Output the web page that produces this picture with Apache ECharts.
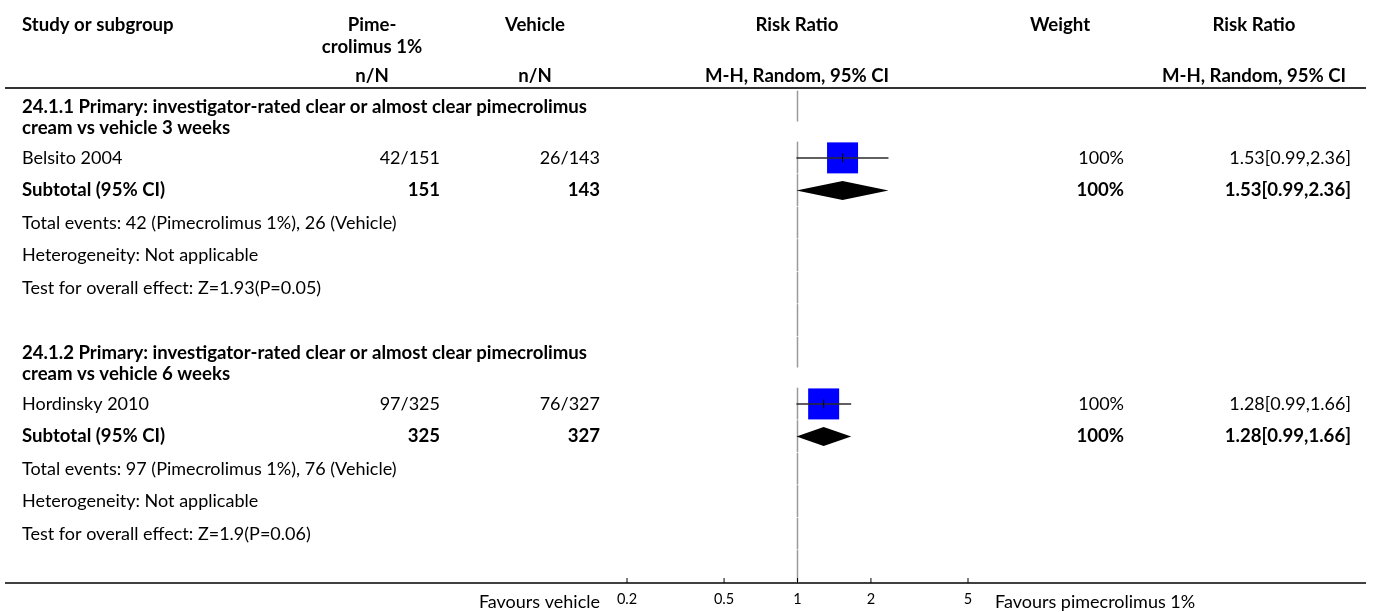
<!DOCTYPE html>
<html>
<head>
<meta charset="utf-8">
<script src="https://cdn.jsdelivr.net/npm/echarts@6/dist/echarts.min.js"></script>
<style>
  html, body { margin: 0; padding: 0; background: #ffffff; }
  #chart { width: 1373px; height: 612px; }
</style>
</head>
<body>
<div id="chart"></div>
<script>
// ---- Forest plot data: pimecrolimus 1% cream vs vehicle ----
const subgroupTitles = [
  '24.1.1 Primary: investigator-rated clear or almost clear pimecrolimus\ncream vs vehicle 3 weeks',
  '24.1.2 Primary: investigator-rated clear or almost clear pimecrolimus\ncream vs vehicle 6 weeks'
];
const studyNames = ['Belsito 2004', 'Hordinsky 2010'];
const studySubgroup = [0, 1];
const pimeEvents = [42, 97];
const pimeTotals = [151, 325];
const vehicleEvents = [26, 76];
const vehicleTotals = [143, 327];
const studyRR = [1.53, 1.28];
const studyLow = [0.99, 0.99];
const studyHigh = [2.36, 1.66];
const studyWeight = [100, 100];

const subtotalRR = [1.53, 1.28];
const subtotalLow = [0.99, 0.99];
const subtotalHigh = [2.36, 1.66];
const subtotalWeight = [100, 100];
const heterogeneityText = ['Not applicable', 'Not applicable'];
const zValues = ['1.93', '1.9'];
const pValues = ['0.05', '0.06'];

const tickValues = [0.2, 0.5, 1, 2, 5];
const tickLabels = ['0.2', '0.5', '1', '2', '5'];
const axisMin = 0.2;
const axisMax = 5;

// ---- layout ----
const FONT = 'Lato';
const regular = `normal 18px "${FONT}"`;
const bold = `bold 18.6px "${FONT}"`;
const COL = {
  name: 22, pimeRight: 440, pimeHead: 372, vehRight: 600, vehHead: 535,
  plotHead: 797, weightRight: 1124, weightHead: 1060, ciRight: 1351, ciHead: 1254
};
const GRID = { left: 627, width: 341, top: 88, bottom: 583 };

const fmtCI = (rr, lo, hi) => `${rr.toFixed(2)}[${lo.toFixed(2)},${hi.toFixed(2)}]`;

// ---- rows of the table, positioned in row units down the y axis ----
const rows = [];
let pos = 0.58;
subgroupTitles.forEach((title, g) => {
  rows.push({ kind: 'title', pos, text: title }); pos += 1.57;
  let nP = 0, nV = 0, eP = 0, eV = 0;
  studyNames.forEach((name, i) => {
    if (studySubgroup[i] !== g) return;
    rows.push({ kind: 'study', pos, i }); pos += 1;
    nP += pimeTotals[i]; nV += vehicleTotals[i]; eP += pimeEvents[i]; eV += vehicleEvents[i];
  });
  rows.push({ kind: 'subtotal', pos, g, nP, nV }); pos += 1;
  rows.push({ kind: 'note', pos, text: `Total events: ${eP} (Pimecrolimus 1%), ${eV} (Vehicle)` }); pos += 1;
  rows.push({ kind: 'note', pos, text: `Heterogeneity: ${heterogeneityText[g]}` }); pos += 1;
  rows.push({ kind: 'note', pos, text: `Test for overall effect: Z=${zValues[g]}(P=${pValues[g]})` }); pos += 1;
  rows.push({ kind: 'blank', pos }); pos += 1;
});
const yMax = rows[rows.length - 1].pos + 0.51;

function txt(x, y, text, font, align) {
  return { type: 'text', silent: true,
    style: { x, y, text, font, fill: '#000', textAlign: align || 'left', textVerticalAlign: 'middle' } };
}

function renderRow(params, api) {
  const r = rows[params.dataIndex];
  const y = api.coord([1, r.pos])[1];
  const refX = api.coord([1, r.pos])[0];
  const children = [];
  // line of no effect, drawn per row
  const top = api.coord([1, Math.max(0, r.pos - 0.5)])[1];
  const bot = api.coord([1, r.kind === 'title' ? r.pos + 0.45 : (r.pos + 0.51 >= yMax ? yMax : r.pos + 0.48)])[1];
  children.push({ type: 'line', silent: true, shape: { x1: refX, y1: top, x2: refX, y2: bot },
    style: { stroke: '#9a9a9a', lineWidth: 1.5 } });

  if (r.kind === 'title') {
    children.push({ type: 'text', silent: true,
      style: { x: COL.name, y: y - 10, text: r.text, font: bold, fill: '#000', lineHeight: 21,
        textAlign: 'left', textVerticalAlign: 'top' } });
  } else if (r.kind === 'study') {
    const i = r.i;
    children.push(txt(COL.name, y, studyNames[i], regular));
    children.push(txt(COL.pimeRight, y, `${pimeEvents[i]}/${pimeTotals[i]}`, regular, 'right'));
    children.push(txt(COL.vehRight, y, `${vehicleEvents[i]}/${vehicleTotals[i]}`, regular, 'right'));
    children.push(txt(COL.weightRight, y, `${studyWeight[i]}%`, regular, 'right'));
    children.push(txt(COL.ciRight, y, fmtCI(studyRR[i], studyLow[i], studyHigh[i]), regular, 'right'));
    const cx = api.coord([studyRR[i], r.pos])[0];
    const lo = api.coord([studyLow[i], r.pos])[0];
    const hi = api.coord([studyHigh[i], r.pos])[0];
    const side = 31 * Math.sqrt(studyWeight[i] / 100);
    children.push({ type: 'rect', silent: true, shape: { x: cx - side / 2, y: y - side / 2, width: side, height: side },
      style: { fill: '#0000ff' } });
    children.push({ type: 'line', silent: true, shape: { x1: lo, y1: y, x2: hi, y2: y },
      style: { stroke: '#2b2b2b', lineWidth: 1.5 } });
    children.push({ type: 'line', silent: true, shape: { x1: cx, y1: y - 4.5, x2: cx, y2: y + 4.5 },
      style: { stroke: '#000', lineWidth: 1 } });
  } else if (r.kind === 'subtotal') {
    const g = r.g;
    children.push(txt(COL.name, y, 'Subtotal (95% CI)', bold));
    children.push(txt(COL.pimeRight, y, String(r.nP), bold, 'right'));
    children.push(txt(COL.vehRight, y, String(r.nV), bold, 'right'));
    children.push(txt(COL.weightRight, y, `${subtotalWeight[g]}%`, bold, 'right'));
    children.push(txt(COL.ciRight, y, fmtCI(subtotalRR[g], subtotalLow[g], subtotalHigh[g]), bold, 'right'));
    const cx = api.coord([subtotalRR[g], r.pos])[0];
    const lo = api.coord([subtotalLow[g], r.pos])[0];
    const hi = api.coord([subtotalHigh[g], r.pos])[0];
    children.push({ type: 'polygon', silent: true,
      shape: { points: [[lo, y], [cx, y - 9.5], [hi, y], [cx, y + 9.5]] },
      style: { fill: '#000' } });
  } else if (r.kind === 'note') {
    children.push(txt(COL.name, y, r.text, regular));
  }
  return { type: 'group', children };
}

function renderTick(params, api) {
  const v = tickValues[params.dataIndex];
  const p = api.coord([v, yMax]);
  return { type: 'group', children: [
    { type: 'line', silent: true, shape: { x1: p[0], y1: p[1], x2: p[0], y2: p[1] - 5 },
      style: { stroke: '#000', lineWidth: 1 } },
    { type: 'text', silent: true,
      style: { x: p[0], y: p[1] + 16, text: tickLabels[params.dataIndex], font: `normal 14.5px "${FONT}"`,
        fill: '#000', textAlign: 'center', textVerticalAlign: 'middle' } }
  ] };
}

// ---- header ----
const headerY = [25, 47, 76];
const header = [
  txt(COL.name, headerY[0], 'Study or subgroup', bold),
  txt(COL.pimeHead, headerY[0], 'Pime-', bold, 'center'),
  txt(COL.pimeHead, headerY[1], 'crolimus 1%', bold, 'center'),
  txt(COL.pimeHead, headerY[2], 'n/N', bold, 'center'),
  txt(COL.vehHead, headerY[0], 'Vehicle', bold, 'center'),
  txt(COL.vehHead, headerY[2], 'n/N', bold, 'center'),
  txt(COL.plotHead, headerY[0], 'Risk Ratio', bold, 'center'),
  txt(COL.plotHead, headerY[2], 'M-H, Random, 95% CI', bold, 'center'),
  txt(COL.weightHead, headerY[0], 'Weight', bold, 'center'),
  txt(COL.ciHead, headerY[0], 'Risk Ratio', bold, 'center'),
  txt(COL.ciHead, headerY[2], 'M-H, Random, 95% CI', bold, 'center'),
  { type: 'line', silent: true, shape: { x1: 5, y1: GRID.top, x2: 1366, y2: GRID.top },
    style: { stroke: '#333', lineWidth: 2 } },
  { type: 'line', silent: true, shape: { x1: 5, y1: GRID.bottom, x2: 1366, y2: GRID.bottom },
    style: { stroke: '#000', lineWidth: 1.5 } },
  txt(600, 602, 'Favours vehicle', regular, 'right'),
  txt(995, 602, 'Favours pimecrolimus 1%', regular, 'left')
];

const chart = echarts.init(document.getElementById('chart'), null, { renderer: 'canvas' });
chart.setOption({
  animation: false,
  backgroundColor: '#ffffff',
  grid: { left: GRID.left, width: GRID.width, top: GRID.top, height: GRID.bottom - GRID.top, containLabel: false },
  xAxis: { type: 'log', logBase: 10, min: axisMin, max: axisMax,
    axisLine: { show: false }, axisTick: { show: false }, axisLabel: { show: false }, splitLine: { show: false } },
  yAxis: { type: 'value', inverse: true, min: 0, max: yMax, show: false },
  graphic: { elements: header },
  series: [
    { type: 'custom', clip: false, renderItem: renderRow, data: rows.map(r => [1, r.pos]), z: 2 },
    { type: 'custom', clip: false, renderItem: renderTick, data: tickValues.map(v => [v, yMax]), z: 3 }
  ]
});
</script>
</body>
</html>
